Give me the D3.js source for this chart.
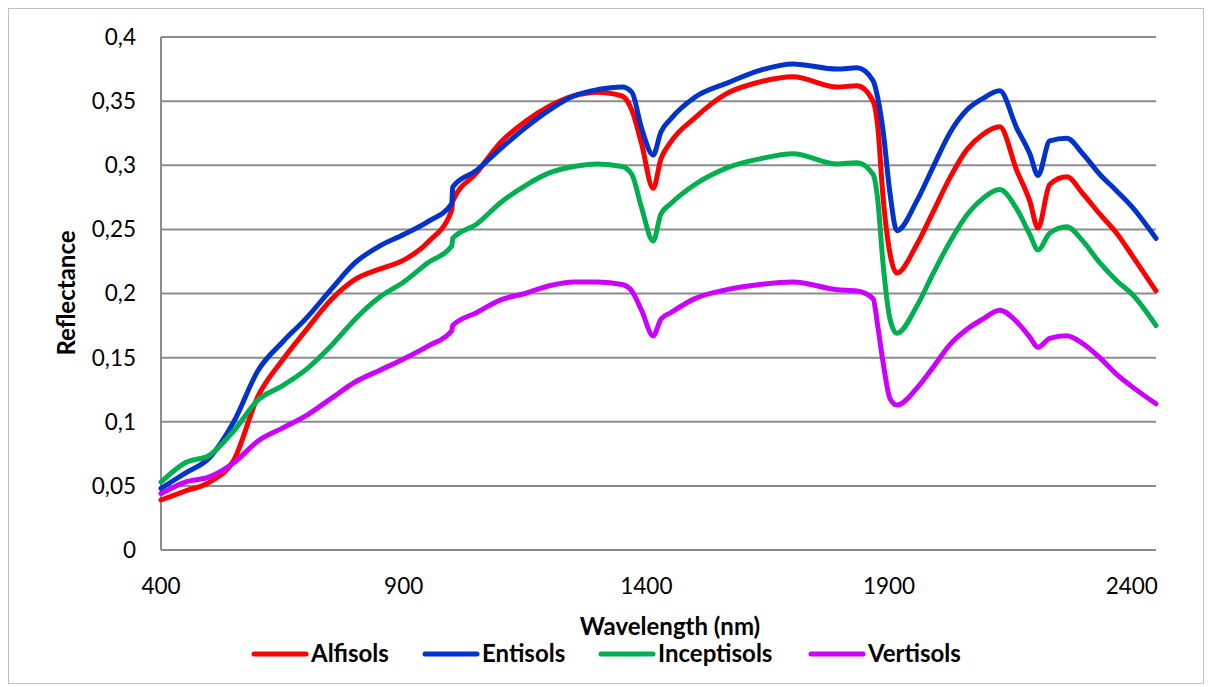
<!DOCTYPE html>
<html>
<head>
<meta charset="utf-8">
<script src="https://cdn.jsdelivr.net/npm/d3@7"></script>
<style>
  body { margin: 0; background: #fff; }
  text { font-family: Lato, "Open Sans", sans-serif; fill: #000; }
</style>
</head>
<body>
<div id="chart"></div>
<script>
// wavelengths (nm) shared by all four soil curves
var wavelength = [400, 450, 500, 550, 600, 650, 700, 750, 800, 850, 900, 950, 999, 1001,
  1050, 1100, 1150, 1200, 1250, 1300, 1350, 1370, 1390, 1414, 1430, 1450, 1500, 1566,
  1634, 1702, 1793, 1834, 1867, 1877, 1887, 1902, 1916, 1957, 1990, 2025, 2060, 2093,
  2128, 2163, 2190, 2207, 2231, 2266, 2299, 2334, 2369, 2402, 2450]

var alfisols = [0.039, 0.046, 0.053, 0.070, 0.120, 0.148, 0.172, 0.195, 0.211, 0.219, 0.226, 0.240, 0.265, 0.272,
  0.294, 0.318, 0.334, 0.346, 0.354, 0.357, 0.354, 0.343, 0.317, 0.282, 0.305, 0.318, 0.337, 0.356,
  0.365, 0.369, 0.361, 0.362, 0.350, 0.329, 0.278, 0.231, 0.216, 0.238, 0.263, 0.290, 0.312, 0.324,
  0.330, 0.296, 0.272, 0.251, 0.285, 0.291, 0.278, 0.262, 0.247, 0.229, 0.202]

var entisols = [0.048, 0.060, 0.072, 0.100, 0.140, 0.162, 0.181, 0.203, 0.224, 0.237, 0.246, 0.256, 0.270, 0.283,
  0.296, 0.313, 0.329, 0.343, 0.354, 0.359, 0.361, 0.357, 0.329, 0.308, 0.326, 0.336, 0.353, 0.364,
  0.374, 0.379, 0.375, 0.376, 0.366, 0.352, 0.329, 0.278, 0.249, 0.272, 0.298, 0.325, 0.343, 0.352,
  0.358, 0.329, 0.309, 0.292, 0.319, 0.321, 0.309, 0.293, 0.280, 0.267, 0.243]

var inceptisols = [0.053, 0.068, 0.074, 0.093, 0.117, 0.128, 0.141, 0.159, 0.180, 0.197, 0.209, 0.224, 0.237, 0.243,
  0.254, 0.271, 0.284, 0.294, 0.299, 0.301, 0.299, 0.293, 0.267, 0.241, 0.262, 0.270, 0.285, 0.298,
  0.305, 0.309, 0.301, 0.302, 0.293, 0.272, 0.226, 0.180, 0.169, 0.190, 0.215, 0.240, 0.261, 0.274,
  0.281, 0.266, 0.246, 0.234, 0.247, 0.252, 0.241, 0.224, 0.210, 0.199, 0.175]

var vertisols = [0.044, 0.053, 0.057, 0.068, 0.085, 0.095, 0.105, 0.118, 0.131, 0.140, 0.149, 0.159, 0.171, 0.175,
  0.185, 0.195, 0.200, 0.206, 0.209, 0.209, 0.207, 0.202, 0.187, 0.167, 0.180, 0.185, 0.196, 0.203,
  0.207, 0.209, 0.203, 0.202, 0.196, 0.174, 0.148, 0.118, 0.113, 0.126, 0.142, 0.160, 0.172, 0.180,
  0.187, 0.178, 0.166, 0.158, 0.165, 0.167, 0.161, 0.150, 0.137, 0.127, 0.114]

var series_names = ["Alfisols", "Entisols", "Inceptisols", "Vertisols"]
var series_colors = ["#ff0000", "#0033cc", "#00b050", "#cc00ff"]
var series_values = [alfisols, entisols, inceptisols, vertisols]

var x_ticks = [400, 900, 1400, 1900, 2400]
var y_ticks = [0, 0.05, 0.1, 0.15, 0.2, 0.25, 0.3, 0.35, 0.4]

const W = 1209, H = 687
const PLOT = { LEFT: 161, RIGHT: 1156, TOP: 37, BOTTOM: 550 }

const svg = d3.select("#chart")
  .append("svg")
  .attr("width", W)
  .attr("height", H)

// outer chart border
svg.append("rect")
  .attr("x", 8.5).attr("y", 8.5)
  .attr("width", 1195).attr("height", 675)
  .attr("fill", "none")
  .attr("stroke", "#bfbfbf")
  .attr("stroke-width", 1)

var xScale = d3.scaleLinear()
  .domain([400, 2450])
  .range([PLOT.LEFT, PLOT.RIGHT])
var yScale = d3.scaleLinear()
  .domain([0, 0.4])
  .range([PLOT.BOTTOM, PLOT.TOP])

var fmt = d => d3.format("~g")(d).replace(".", ",")

// horizontal gridlines
svg.append("g")
  .selectAll("line")
  .data(y_ticks)
  .enter()
  .append("line")
  .attr("x1", PLOT.LEFT).attr("x2", PLOT.RIGHT)
  .attr("y1", d => yScale(d)).attr("y2", d => yScale(d))
  .attr("stroke", "#8c8c8c")
  .attr("stroke-width", 2)

// left axis line
svg.append("line")
  .attr("x1", PLOT.LEFT).attr("x2", PLOT.LEFT)
  .attr("y1", PLOT.TOP).attr("y2", PLOT.BOTTOM)
  .attr("stroke", "#8c8c8c")
  .attr("stroke-width", 2)

// y tick labels
svg.append("g")
  .selectAll("text")
  .data(y_ticks)
  .enter()
  .append("text")
  .attr("x", 136)
  .attr("y", d => yScale(d))
  .attr("dy", "0.35em")
  .attr("text-anchor", "end")
  .style("font-size", "22.5px")
  .text(d => fmt(d))

// x tick labels
svg.append("g")
  .selectAll("text")
  .data(x_ticks)
  .enter()
  .append("text")
  .attr("x", d => xScale(d))
  .attr("y", 594)
  .attr("text-anchor", "middle")
  .style("font-size", "22.5px")
  .text(d => d)

// axis titles
svg.append("text")
  .attr("transform", "translate(75,293) rotate(-90)")
  .attr("text-anchor", "middle")
  .style("font-size", "24px")
  .style("font-weight", "bold")
  .text("Reflectance")

svg.append("text")
  .attr("x", 670)
  .attr("y", 635)
  .attr("text-anchor", "middle")
  .style("font-size", "24px")
  .style("font-weight", "bold")
  .text("Wavelength (nm)")

// curves
var line = d3.line()
  .x(d => xScale(d[0]))
  .y(d => yScale(d[1]))
  .curve(d3.curveMonotoneX)

svg.append("g")
  .selectAll("path")
  .data(series_values)
  .enter()
  .append("path")
  .attr("d", vals => line(wavelength.map((w, i) => [w, vals[i]])))
  .attr("fill", "none")
  .attr("stroke", (d, i) => series_colors[i])
  .attr("stroke-width", 5)
  .attr("stroke-linejoin", "round")
  .attr("stroke-linecap", "round")

// legend
var legend_x = [252, 423, 599, 809]
var lg = svg.append("g")
  .selectAll("g")
  .data(series_names)
  .enter()
  .append("g")
  .attr("transform", (d, i) => "translate(" + legend_x[i] + ",654)")
lg.append("line")
  .attr("x1", 2).attr("x2", 54)
  .attr("stroke", (d, i) => series_colors[i])
  .attr("stroke-width", 5)
  .attr("stroke-linecap", "round")
lg.append("text")
  .attr("x", 59)
  .attr("dy", "0.35em")
  .style("font-size", "24px")
  .style("font-weight", "bold")
  .text(d => d)
</script>
</body>
</html>
